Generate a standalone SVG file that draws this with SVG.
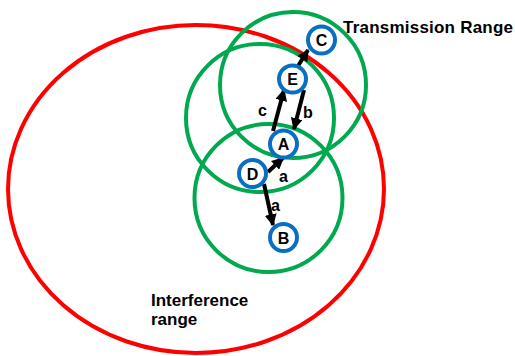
<svg xmlns="http://www.w3.org/2000/svg" width="515" height="356" viewBox="0 0 515 356">
<defs>
<marker id="ah" viewBox="0 0 10 10" refX="9" refY="5" markerWidth="3" markerHeight="3" orient="auto" markerUnits="strokeWidth">
<path d="M0,0 L10,5 L0,10 z" fill="#000"/>
</marker>
<style>
.rng{fill:none;stroke-width:4}
.red{stroke:#ff0000}
.grn{stroke:#00a94f}
.nd{fill:#fff;stroke:#0a6fc2;stroke-width:4}
.nt{font-family:"Liberation Sans",Arial,sans-serif;font-weight:bold;font-size:16px;text-anchor:middle;fill:#000}
.lb{font-family:"Liberation Sans",Arial,sans-serif;font-weight:bold;font-size:16px;fill:#000}
.big{font-family:"Liberation Sans",Arial,sans-serif;font-weight:bold;font-size:17px;fill:#000}
.ed{stroke:#000;stroke-width:4;fill:none;marker-end:url(#ah)}
</style>
</defs>
<rect width="515" height="356" fill="#fff"/>
<g id="ranges">
<ellipse class="rng red" cx="196" cy="189" rx="188" ry="164"/>
<circle class="rng grn" cx="293" cy="85" r="73"/>
<circle class="rng grn" cx="260" cy="118" r="74"/>
<circle class="rng grn" cx="268.5" cy="198" r="74"/>
</g>
<g id="connectors">
<line class="ed" x1="298" y1="66" x2="308" y2="50"/>
<line class="ed" x1="273" y1="131" x2="284" y2="90"/>
<line class="ed" x1="304" y1="90" x2="294" y2="129"/>
<line class="ed" x1="268" y1="172" x2="283" y2="158"/>
<line class="ed" x1="264" y1="184" x2="273" y2="225"/>
</g>
<g id="edge-labels">
<text class="lb" x="258" y="116">c</text>
<text class="lb" x="303" y="118">b</text>
<text class="lb" x="279" y="182">a</text>
<text class="lb" x="271" y="211">a</text>
</g>
<g id="node-C"><circle class="nd" cx="321.5" cy="40" r="13.5"/><text class="nt" x="321.5" y="46">C</text></g>
<g id="node-E"><circle class="nd" cx="292.5" cy="79" r="13.5"/><text class="nt" x="292.5" y="85">E</text></g>
<g id="node-A"><circle class="nd" cx="283.5" cy="144" r="13.5"/><text class="nt" x="283.5" y="150">A</text></g>
<g id="node-D"><circle class="nd" cx="252.5" cy="173.5" r="13.5"/><text class="nt" x="252.5" y="179.5">D</text></g>
<g id="node-B"><circle class="nd" cx="283.5" cy="237.5" r="13.5"/><text class="nt" x="283.5" y="243.5">B</text></g>
<g id="labels">
<text class="big" x="343" y="33" textLength="170">Transmission Range</text>
<text class="big" x="151" y="306">Interference</text>
<text class="big" x="151" y="325">range</text>
</g>
</svg>
